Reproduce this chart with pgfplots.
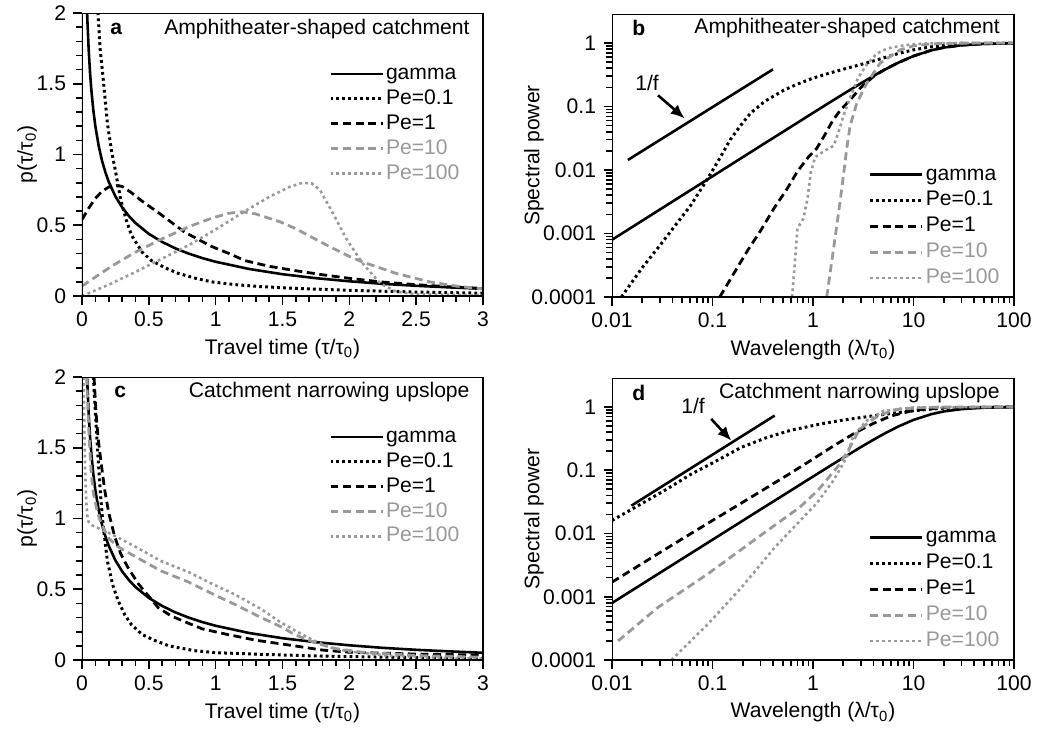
\documentclass[border=0pt]{standalone}
\usepackage{fontspec}
\setmainfont{Liberation Sans}
\usepackage{pgfplots}
\pgfplotsset{compat=1.18}
\usetikzlibrary{arrows.meta}

\definecolor{lgray}{gray}{0.6}
\tikzset{
  gam/.style={black, line width=1.3pt},
  p01/.style={black, line width=1.5pt, dash pattern=on 1.4pt off 1.6pt},
  p1/.style={black, line width=1.4pt, dash pattern=on 4pt off 2.3pt},
  p10/.style={lgray, line width=1.4pt, dash pattern=on 4pt off 2.3pt},
  p100/.style={lgray, line width=1.3pt, dash pattern=on 1.4pt off 1.6pt},
}
\pgfplotsset{
  base/.style={scale only axis, tick align=outside, tick style={black, line width=0.8pt},
    xtick pos=left, ytick pos=left},
  leg/.style={legend cell align=left,
    legend image code/.code={\draw[##1] (0bp,0bp) -- (26bp,0bp);},
    legend style={draw=none, fill=none, inner sep=0pt, anchor=north west,
      nodes={inner sep=1pt, text height=8pt, text depth=2.5pt},
      /tikz/every even column/.append style={column sep=1.5pt}}},
  lin/.style={xmin=0, xmax=3, ymin=0, ymax=2,
    xtick={0,0.5,1,1.5,2,2.5,3}, xticklabels={0,0.5,1,1.5,2,2.5,3},
    ytick={0,0.5,1,1.5,2}, yticklabels={0,0.5,1,1.5,2},
    minor x tick num=4, minor y tick num=4,
    xlabel={Travel time (τ/τ\textsubscript{0})}, ylabel={p(τ/τ\textsubscript{0})},
    xlabel style={at={(axis description cs:0.5,-0.205)}, anchor=base},
    ylabel style={at={(axis description cs:-0.137,0.5)}, anchor=center}},
  lg/.style={xmin=0.01, xmax=100, ymin=0.0001, ymax=2.86,
    xtick={0.01,0.1,1,10,100}, xticklabels={0.01,0.1,1,10,100},
    ytick={0.0001,0.001,0.01,0.1,1}, yticklabels={0.0001,0.001,0.01,0.1,1},
    xlabel={Wavelength (λ/τ\textsubscript{0})}, ylabel={Spectral power},
    xlabel style={at={(axis description cs:0.5,-0.205)}, anchor=base},
    ylabel style={at={(axis description cs:-0.194,0.5)}, anchor=center}},
}
\newcommand\frm{\draw[line width=1.2pt] (rel axis cs:0,0) rectangle (rel axis cs:1,1);}

\begin{document}
\fontsize{10.6}{12.7}\selectfont
\begin{tikzpicture}

% ---------- a ----------
\begin{axis}[base, leg, lin,
  at={(41bp,-148bp)}, anchor=south west, width=200.5bp, height=141.5bp,
  legend style={at={(rel axis cs:0.615,0.83)}}]
\addplot[gam] coordinates {(0.035,2.095)(0.04,1.955)(0.05,1.740)(0.06,1.580)(0.07,1.456)(0.085,1.311)(0.1,1.200)(0.125,1.060)(0.15,0.955)(0.175,0.874)(0.2,0.807)(0.25,0.704)(0.3,0.627)(0.35,0.566)(0.4,0.516)(0.5,0.439)(0.6,0.382)(0.7,0.336)(0.8,0.299)(0.9,0.268)(1,0.242)(1.25,0.191)(1.5,0.154)(1.75,0.126)(2,0.104)(2.25,0.086)(2.5,0.072)(2.75,0.061)(3,0.051)};
\addlegendentry{gamma}
\addplot[p01] coordinates {(0.112,2.3)(0.12,2.0)(0.135,1.75)(0.157,1.55)(0.19,1.22)(0.22,1.03)(0.245,0.91)(0.29,0.68)(0.33,0.54)(0.37,0.43)(0.45,0.31)(0.52,0.25)(0.62,0.2)(0.72,0.16)(0.85,0.125)(0.97,0.10)(1.15,0.08)(1.34,0.066)(1.6,0.054)(2,0.04)(2.5,0.028)(3,0.02)};
\addlegendentry{Pe=0.1}
\addplot[p1] coordinates {(0,0.54)(0.05,0.62)(0.1,0.69)(0.15,0.74)(0.2,0.77)(0.26,0.78)(0.3,0.775)(0.37,0.73)(0.45,0.67)(0.57,0.59)(0.67,0.52)(0.77,0.45)(0.87,0.40)(0.97,0.35)(1.1,0.30)(1.22,0.25)(1.4,0.21)(1.59,0.18)(1.8,0.15)(2.0,0.125)(2.23,0.10)(2.5,0.08)(2.75,0.065)(3,0.054)};
\addlegendentry{Pe=1}
\addplot[p10] coordinates {(0,0.07)(0.22,0.21)(0.4,0.31)(0.59,0.40)(0.8,0.49)(0.97,0.55)(1.1,0.585)(1.2,0.595)(1.3,0.58)(1.48,0.525)(1.59,0.48)(1.75,0.40)(1.85,0.35)(2.0,0.28)(2.1,0.24)(2.35,0.16)(2.6,0.10)(2.8,0.07)(3,0.05)};
\addlegendentry{\textcolor{lgray}{Pe=10}}
\addplot[p100] coordinates {(0,0)(0.2,0.08)(0.4,0.17)(0.59,0.26)(0.8,0.36)(1.0,0.47)(1.22,0.60)(1.4,0.70)(1.55,0.77)(1.65,0.80)(1.72,0.795)(1.78,0.75)(1.88,0.58)(1.98,0.40)(2.1,0.23)(2.23,0.09)(2.35,0.03)(2.5,0.012)(3,0.005)};
\addlegendentry{\textcolor{lgray}{Pe=100}}
\frm
\node[anchor=west] at (rel axis cs:0.052,0.943) {\bfseries a};
\node[anchor=east] at (rel axis cs:0.985,0.943) {Amphitheater-shaped catchment};
\end{axis}

% ---------- b ----------
\begin{loglogaxis}[base, leg, lg,
  at={(306bp,-148.5bp)}, anchor=south west, width=201bp, height=141.5bp,
  legend style={at={(rel axis cs:0.638,0.478)}, row sep=0.5pt}]
\addplot[gam] coordinates {(0.01,0.000796)(0.03,0.00239)(0.1,0.00796)(0.3,0.0239)(0.5,0.0397)(1,0.0793)(1.5,0.1185)(2,0.157)(3,0.232)(4,0.303)(5,0.370)(7,0.487)(10,0.623)(15,0.767)(20,0.847)(30,0.922)(50,0.970)(100,0.992)};
\addlegendentry{gamma}
\addplot[p01] coordinates {(0.0124,0.0001)(0.02,0.00029)(0.03,0.00065)(0.045,0.0015)(0.06,0.0027)(0.08,0.0055)(0.1,0.0098)(0.12,0.016)(0.15,0.03)(0.19,0.05)(0.238,0.078)(0.33,0.12)(0.51,0.18)(0.7,0.225)(1,0.28)(1.5,0.34)(2.3,0.41)(3.5,0.49)(5,0.58)(7,0.68)(10,0.78)(15,0.87)(25,0.94)(40,0.975)(100,0.995)};
\addlegendentry{Pe=0.1}
\addplot[p1] coordinates {(0.118,0.0001)(0.225,0.00055)(0.3,0.0011)(0.416,0.0026)(0.55,0.005)(0.7,0.0095)(0.9,0.016)(1.09,0.022)(1.3,0.035)(1.59,0.062)(1.9,0.09)(2.33,0.126)(3,0.2)(3.98,0.295)(5,0.37)(7,0.487)(10,0.623)(15,0.767)(20,0.847)(30,0.922)(50,0.970)(100,0.992)};
\addlegendentry{Pe=1}
\addplot[p10] coordinates {(1.37,0.0001)(1.55,0.0004)(1.72,0.0013)(1.85,0.003)(2.0,0.0078)(2.15,0.02)(2.33,0.048)(2.72,0.112)(3.42,0.23)(4.64,0.48)(7.35,0.78)(10,0.9)(15,0.97)(30,0.995)(100,1.0)};
\addlegendentry{\textcolor{lgray}{Pe=10}}
\addplot[p100] coordinates {(0.62,0.0001)(0.66,0.00035)(0.7,0.0012)(0.8,0.0017)(0.88,0.0035)(0.95,0.009)(1.05,0.016)(1.3,0.02)(1.6,0.024)(1.8,0.04)(2.0,0.07)(2.35,0.14)(2.8,0.28)(3.4,0.45)(4.3,0.68)(5.5,0.82)(7.4,0.9)(10,0.96)(15,0.99)(30,1.0)(100,1.0)};
\addlegendentry{\textcolor{lgray}{Pe=100}}
\addplot[gam, forget plot] coordinates {(0.0144,0.0144)(0.40,0.385)};
\draw[-{Latex[length=7pt,width=6pt]}, line width=1.3pt] (axis cs:0.0287,0.15) -- (axis cs:0.0528,0.065);
\node at (axis cs:0.0223,0.239) {1/f};
\frm
\node[anchor=west] at (rel axis cs:0.032,0.95) {\bfseries b};
\node[anchor=east] at (rel axis cs:0.983,0.95) {Amphitheater-shaped catchment};
\end{loglogaxis}

% ---------- c ----------
\begin{axis}[base, leg, lin,
  at={(41bp,-330bp)}, anchor=south west, width=200.5bp, height=141.5bp,
  legend style={at={(rel axis cs:0.615,0.834)}}]
\addplot[gam] coordinates {(0.035,2.095)(0.04,1.955)(0.05,1.740)(0.06,1.580)(0.07,1.456)(0.085,1.311)(0.1,1.200)(0.125,1.060)(0.15,0.955)(0.175,0.874)(0.2,0.807)(0.25,0.704)(0.3,0.627)(0.35,0.566)(0.4,0.516)(0.5,0.439)(0.6,0.382)(0.7,0.336)(0.8,0.299)(0.9,0.268)(1,0.242)(1.25,0.191)(1.5,0.154)(1.75,0.126)(2,0.104)(2.25,0.086)(2.5,0.072)(2.75,0.061)(3,0.051)};
\addlegendentry{gamma}
\addplot[p01] coordinates {(0.085,2.0)(0.1,1.75)(0.12,1.43)(0.14,1.15)(0.157,0.96)(0.19,0.70)(0.23,0.53)(0.27,0.42)(0.32,0.32)(0.37,0.25)(0.45,0.18)(0.54,0.14)(0.65,0.10)(0.84,0.066)(1.0,0.052)(1.34,0.04)(1.7,0.03)(2,0.024)(2.5,0.017)(3,0.012)};
\addlegendentry{Pe=0.1}
\addplot[p1] coordinates {(0.09,2.0)(0.105,1.75)(0.12,1.57)(0.145,1.38)(0.17,1.20)(0.2,1.04)(0.245,0.87)(0.29,0.75)(0.34,0.66)(0.42,0.54)(0.5,0.45)(0.57,0.37)(0.67,0.31)(0.77,0.27)(0.9,0.22)(1.09,0.18)(1.3,0.14)(1.59,0.10)(1.8,0.07)(2,0.055)(2.5,0.042)(3,0.035)};
\addlegendentry{Pe=1}
\addplot[p10] coordinates {(0.035,2.0)(0.045,1.75)(0.055,1.55)(0.07,1.31)(0.085,1.18)(0.107,1.08)(0.13,1.0)(0.157,0.94)(0.2,0.86)(0.27,0.80)(0.4,0.73)(0.59,0.63)(0.8,0.55)(0.97,0.47)(1.15,0.39)(1.34,0.30)(1.5,0.23)(1.59,0.18)(1.75,0.12)(1.9,0.08)(2.1,0.055)(2.5,0.032)(3,0.02)};
\addlegendentry{\textcolor{lgray}{Pe=10}}
\addplot[p100] coordinates {(0.012,2.0)(0.018,1.6)(0.025,1.3)(0.032,1.12)(0.04,1.02)(0.05,0.975)(0.08,0.95)(0.15,0.92)(0.22,0.89)(0.4,0.80)(0.59,0.70)(0.8,0.62)(0.97,0.54)(1.15,0.46)(1.34,0.36)(1.48,0.27)(1.59,0.21)(1.73,0.14)(1.85,0.09)(2.0,0.06)(2.3,0.03)(2.6,0.017)(3,0.01)};
\addlegendentry{\textcolor{lgray}{Pe=100}}
\frm
\node[anchor=west] at (rel axis cs:0.062,0.947) {\bfseries c};
\node[anchor=east] at (rel axis cs:0.985,0.947) {Catchment narrowing upslope};
\end{axis}

% ---------- d ----------
\begin{loglogaxis}[base, leg, lg,
  at={(306bp,-330bp)}, anchor=south west, width=201bp, height=141bp,
  legend style={at={(rel axis cs:0.638,0.48)}, row sep=0.5pt}]
\addplot[gam] coordinates {(0.01,0.000796)(0.03,0.00239)(0.1,0.00796)(0.3,0.0239)(0.5,0.0397)(1,0.0793)(1.5,0.1185)(2,0.157)(3,0.232)(4,0.303)(5,0.370)(7,0.487)(10,0.623)(15,0.767)(20,0.847)(30,0.922)(50,0.970)(100,0.992)};
\addlegendentry{gamma}
\addplot[p01] coordinates {(0.01,0.016)(0.0196,0.0294)(0.035,0.05)(0.0616,0.087)(0.1,0.13)(0.194,0.23)(0.35,0.33)(0.61,0.43)(1.21,0.54)(2,0.62)(5,0.76)(10,0.87)(15.7,0.93)(30,0.97)(100,1.0)};
\addlegendentry{Pe=0.1}
\addplot[p1] coordinates {(0.01,0.0017)(0.03,0.005)(0.09,0.0145)(0.28,0.043)(0.6,0.09)(0.9,0.135)(1.59,0.24)(2.7,0.40)(4,0.55)(6,0.72)(10,0.88)(20,0.97)(100,1.0)};
\addlegendentry{Pe=1}
\addplot[p10] coordinates {(0.0115,0.0002)(0.0287,0.00068)(0.09,0.0023)(0.284,0.0087)(0.74,0.026)(1.12,0.048)(1.26,0.06)(1.85,0.125)(2.33,0.23)(2.9,0.44)(4,0.65)(5,0.78)(7.3,0.93)(15,0.99)(100,1.0)};
\addlegendentry{\textcolor{lgray}{Pe=10}}
\addplot[p100] coordinates {(0.039,0.0001)(0.09,0.00037)(0.194,0.0014)(0.416,0.006)(0.74,0.0158)(1.09,0.030)(1.59,0.068)(2.16,0.158)(2.5,0.34)(3.4,0.6)(5,0.86)(10,0.98)(100,1.0)};
\addlegendentry{\textcolor{lgray}{Pe=100}}
\addplot[gam, forget plot] coordinates {(0.0156,0.0275)(0.416,0.73)};
\draw[-{Latex[length=7pt,width=6pt]}, line width=1.3pt] (axis cs:0.097,0.645) -- (axis cs:0.154,0.293);
\node at (axis cs:0.064,1.02) {1/f};
\frm
\node[anchor=west] at (rel axis cs:0.032,0.947) {\bfseries d};
\node[anchor=east] at (rel axis cs:0.983,0.947) {Catchment narrowing upslope};
\end{loglogaxis}

\pgfresetboundingbox
\path[use as bounding box] (0,0) rectangle (518.5bp,-366.5bp);
\end{tikzpicture}
\end{document}
